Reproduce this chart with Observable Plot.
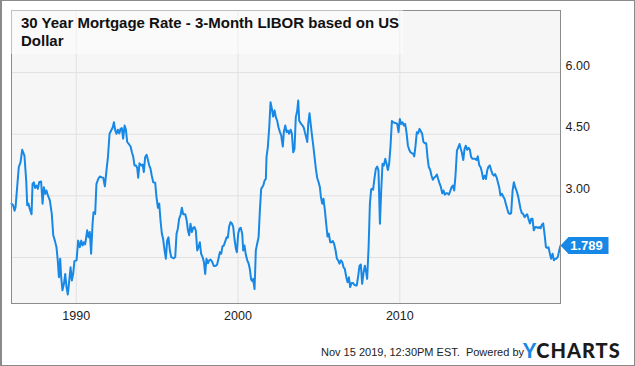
<!DOCTYPE html>
<html><head><meta charset="utf-8">
<script src="https://cdn.jsdelivr.net/npm/d3@7"></script>
<script src="https://cdn.jsdelivr.net/npm/@observablehq/plot@0.6"></script>
<style>
html,body{margin:0;padding:0;background:#fff;}
#wrap{position:relative;width:635px;height:366px;overflow:hidden;font-family:"Liberation Sans",Arial,sans-serif;}
#wrap svg{display:block;}
#border{position:absolute;left:0;top:0;width:635px;height:366px;box-sizing:border-box;border:1px solid #8a8a8a;border-left-width:2px;pointer-events:none;}
#titlebox{position:absolute;left:11px;top:10px;width:392px;height:44px;background:rgba(255,255,255,0.45);}
#title{position:absolute;left:21px;top:14px;font-weight:bold;font-size:15px;line-height:18px;color:#111;white-space:nowrap;}
#caption{position:absolute;left:321px;top:346px;font-size:11px;line-height:13px;color:#222;white-space:pre;}
#logo{position:absolute;left:523px;top:339px;font-family:Lato,"DejaVu Sans",sans-serif;font-weight:900;font-size:20px;line-height:22px;letter-spacing:1px;color:#1b1b1b;}
#logo span{color:#1788e5;}
</style>
</head><body>
<div id="wrap">
  <div id="chart"></div>
  <div id="titlebox"></div>
  <div id="title">30 Year Mortgage Rate - 3-Month LIBOR based on US<br>Dollar</div>
  <div id="caption">Nov 15 2019, 12:30PM EST.  Powered by</div>
  <div id="logo"><span>Y</span>CHARTS</div>
  <div id="border"></div>
</div>
<script>
const dates = [
1986.00,1986.10,1986.19,1986.25,1986.35,1986.45,1986.56,1986.66,1986.72,1986.80,1986.91,1986.97,1987.05,1987.13,1987.24,1987.30,1987.38,1987.46,1987.55,1987.63,1987.71,1987.83,1987.92,1988.00,1988.08,1988.16,1988.25,1988.37,1988.49,1988.58,1988.68,1988.78,1988.86,1988.93,1989.01,1989.07,1989.15,1989.24,1989.32,1989.40,1989.48,1989.56,1989.65,1989.73,1989.81,1989.89,1990.02,1990.12,1990.22,1990.31,1990.39,1990.47,1990.55,1990.68,1990.76,1990.84,1990.92,1991.01,1991.07,1991.17,1991.25,1991.36,1991.46,1991.58,
1991.67,1991.77,1991.87,1991.96,1992.06,1992.16,1992.26,1992.33,1992.41,1992.49,1992.57,1992.66,1992.74,1992.82,1992.90,1992.99,1993.07,1993.15,1993.27,1993.36,1993.44,1993.52,1993.60,1993.69,1993.77,1993.83,1993.91,1994.02,1994.10,1994.18,1994.26,1994.35,1994.43,1994.51,1994.59,1994.67,1994.76,1994.88,1994.96,1995.05,1995.13,1995.21,1995.29,1995.37,1995.46,1995.54,1995.62,1995.70,1995.79,1995.87,1996.03,1996.12,1996.20,1996.28,1996.36,1996.45,1996.53,1996.61,1996.74,1996.82,1996.90,1996.98,
1997.06,1997.15,1997.23,1997.31,1997.39,1997.48,1997.56,1997.64,1997.72,1997.81,1997.89,1997.97,1998.05,1998.14,1998.22,1998.30,1998.38,1998.51,1998.63,1998.71,1998.79,1998.88,1998.96,1999.04,1999.12,1999.21,1999.29,1999.37,1999.45,1999.54,1999.62,1999.70,1999.78,1999.87,1999.93,2000.01,2000.09,2000.17,2000.26,2000.32,2000.40,2000.48,2000.57,2000.65,2000.73,2000.81,2000.90,2000.94,2001.02,2001.06,2001.10,2001.18,2001.27,2001.35,2001.43,2001.56,2001.64,2001.72,2001.76,2001.84,2001.93,2002.01,2002.09,2002.17,2002.26,2002.34,2002.42,2002.50,2002.59,2002.67,
2002.71,2002.77,2002.83,2002.92,2003.00,2003.08,2003.16,2003.25,2003.33,2003.41,2003.49,2003.57,2003.66,2003.72,2003.78,2003.90,2003.99,2004.07,2004.13,2004.21,2004.28,2004.34,2004.42,2004.48,2004.56,2004.65,2004.73,2004.81,2004.89,2004.98,2005.06,2005.12,2005.20,2005.28,2005.37,2005.45,2005.53,2005.61,2005.70,2005.78,2005.86,2005.94,2006.03,2006.11,2006.19,2006.27,2006.36,2006.44,2006.52,2006.60,2006.69,2006.77,2006.85,2006.93,2007.02,2007.10,2007.18,2007.26,2007.34,2007.43,2007.51,2007.59,2007.67,2007.76,2007.84,2007.92,2007.98,2008.07,2008.15,2008.23,
2008.27,2008.35,2008.44,2008.52,2008.60,2008.68,2008.77,2008.85,2008.93,2009.01,2009.10,2009.18,2009.26,2009.34,2009.42,2009.51,2009.59,2009.67,2009.75,2009.84,2009.92,2010.00,2010.08,2010.17,2010.25,2010.33,2010.41,2010.50,2010.58,2010.66,2010.74,2010.83,2010.89,2010.97,2011.05,2011.13,2011.22,2011.30,2011.38,2011.46,2011.55,2011.63,2011.71,2011.79,2011.88,2011.96,2012.04,2012.12,2012.21,2012.29,2012.37,2012.45,2012.54,2012.62,2012.70,2012.78,2012.87,2012.95,2013.03,2013.11,2013.20,2013.28,2013.36,2013.44,2013.53,2013.61,2013.69,2013.77,
2013.83,2013.92,2014.00,2014.08,2014.16,2014.25,2014.33,2014.41,2014.49,2014.58,2014.66,2014.74,2014.82,2014.91,2014.99,2015.07,2015.15,2015.24,2015.32,2015.40,2015.48,2015.56,2015.65,2015.73,2015.81,2015.89,2015.98,2016.06,2016.14,2016.22,2016.31,2016.39,2016.47,2016.55,2016.64,2016.72,2016.80,2016.88,2016.97,2017.05,2017.13,2017.21,2017.30,2017.38,2017.46,2017.54,2017.62,2017.71,2017.79,2017.87,2017.95,2018.04,2018.12,2018.20,2018.28,2018.37,2018.45,2018.53,2018.61,2018.70,2018.78,2018.86,2018.94,2019.03,2019.11,2019.19,2019.27,2019.35,2019.44,2019.52,2019.60,2019.68,2019.77,2019.85,2019.93
];
const spread = [
2.81,2.77,2.64,2.72,3.21,3.70,3.82,4.12,4.06,3.98,3.37,2.77,2.81,2.68,2.55,3.29,3.33,3.19,3.25,3.17,3.33,3.35,2.81,3.21,3.05,3.13,3.01,2.89,2.56,2.04,1.91,1.75,1.43,1.02,1.47,1.02,0.70,0.86,1.10,0.78,0.60,0.90,1.26,0.94,1.10,1.41,1.43,1.91,1.75,1.91,1.79,1.87,1.82,2.16,1.99,2.12,1.59,2.32,2.60,2.56,3.29,3.41,3.47,3.45,
3.44,3.23,3.62,3.94,4.51,4.59,4.67,4.79,4.59,4.51,4.61,4.52,4.63,4.65,4.39,4.71,4.61,4.31,4.25,4.20,4.06,3.96,3.74,3.74,3.68,3.44,3.79,3.74,3.76,3.58,3.94,4.00,3.88,3.74,3.66,3.49,3.33,3.32,2.97,2.71,2.81,2.40,2.09,1.95,1.67,1.47,1.91,1.99,1.67,1.51,1.48,1.51,2.08,2.20,2.44,2.54,2.71,2.55,2.55,2.42,2.17,2.04,
2.32,2.12,2.22,2.24,2.16,1.67,1.75,1.87,1.59,1.51,1.39,1.10,1.47,1.36,1.43,1.45,1.41,1.29,1.30,1.33,1.47,1.63,1.59,1.77,1.79,1.89,1.99,1.98,2.25,2.36,2.33,2.25,1.95,1.71,1.63,2.08,2.20,2.22,2.08,1.67,1.79,1.57,1.43,1.36,1.22,0.96,0.92,0.98,0.73,1.18,1.67,1.83,1.99,2.64,3.17,3.25,3.37,3.41,3.94,4.18,4.67,5.28,5.12,4.93,5.08,4.91,4.83,4.67,4.55,4.47,
4.35,4.20,4.55,4.71,4.55,4.59,4.51,4.61,4.51,4.06,4.14,4.91,5.08,5.32,4.83,4.75,4.71,4.65,4.55,4.43,4.31,4.75,5.01,4.79,4.51,4.22,3.94,3.66,3.44,3.33,3.21,2.98,2.81,2.93,2.64,2.32,2.01,2.08,1.87,1.87,1.90,1.83,1.67,1.47,1.43,1.35,1.43,1.39,1.26,1.22,1.02,0.90,1.02,0.78,0.88,0.88,0.84,0.82,0.82,1.06,1.30,1.33,0.86,1.14,1.30,1.14,0.98,1.75,2.81,3.16,
3.17,3.15,3.45,3.66,3.71,3.62,2.32,3.13,3.78,3.74,3.90,3.78,3.63,3.78,4.18,4.82,4.79,4.78,4.77,4.75,4.55,4.87,4.75,4.79,4.71,4.75,4.55,4.22,4.12,4.06,4.04,4.02,3.96,4.22,4.55,4.52,4.63,4.57,4.51,4.31,4.28,4.28,3.94,3.70,3.63,3.49,3.39,3.44,3.47,3.52,3.41,3.31,3.21,3.06,3.13,3.03,3.06,3.06,3.03,3.11,3.21,3.25,3.13,3.49,4.10,4.18,4.26,4.14,
4.06,3.87,4.14,4.22,4.12,4.17,4.12,3.94,3.90,3.90,3.90,3.87,3.96,3.74,3.70,3.58,3.41,3.49,3.41,3.62,3.71,3.74,3.62,3.53,3.49,3.53,3.45,3.33,3.21,3.01,3.05,2.98,2.93,2.81,2.68,2.58,2.56,2.58,3.13,3.33,3.21,3.13,3.01,2.85,2.68,2.58,2.56,2.48,2.52,2.55,2.44,2.33,2.44,2.44,2.16,2.24,2.24,2.22,2.24,2.21,2.30,2.33,2.08,1.75,1.73,1.75,1.60,1.47,1.59,1.43,1.47,1.47,1.52,1.67,1.789
];
const xTicks = [1990, 2000, 2010];
const yTicks = [1.5, 3, 4.5, 6];
const yLabelTicks = [3, 4.5, 6]; // the 1.50 label sits hidden under the last-value tag
const lastLabel = "1.789";

const blue = "#1788e5";
const data = dates.map((t, i) => ({t, v: spread[i]}));
const last = data[data.length - 1];
const tag = {draw(ctx) {
  ctx.moveTo(0, 0); ctx.lineTo(8, -8.5); ctx.lineTo(48, -8.5);
  ctx.lineTo(48, 8.5); ctx.lineTo(8, 8.5); ctx.closePath();
}};

const chart = Plot.plot({
  width: 635, height: 366,
  marginLeft: 11, marginRight: 75, marginTop: 10, marginBottom: 63,
  style: {fontFamily: '"Liberation Sans", Arial, sans-serif', fontSize: "12.5px", color: "#333", background: "transparent"},
  x: {domain: [1986, 2019.93]},
  y: {domain: [0.38, 7.51]},
  marks: [
    Plot.frame({fill: "#f6f6f6", stroke: null}),
    Plot.ruleX(xTicks, {stroke: "#e1e1e1"}),
    Plot.ruleY(yTicks, {stroke: "#e1e1e1"}),
    Plot.line(data, {x: "t", y: "v", stroke: blue, strokeWidth: 2}),
    Plot.frame({stroke: "#8c8c8c"}),
    Plot.axisX(xTicks, {tickSize: 0, tickPadding: 8, tickFormat: d => String(d), label: null, fill: "#222"}),
    Plot.axisY(yLabelTicks, {anchor: "right", tickSize: 0, tickPadding: 5, dy: -7, textAnchor: "start", tickFormat: d => d.toFixed(2), label: null, fill: "#222"}),
    Plot.dot([last], {x: "t", y: "v", symbol: tag, fill: blue, stroke: null}),
    Plot.text([last], {x: "t", y: "v", text: () => lastLabel, dx: 26, fill: "white", fontWeight: "bold", fontSize: 13})
  ]
});
document.getElementById("chart").appendChild(chart);
</script>
</body></html>
